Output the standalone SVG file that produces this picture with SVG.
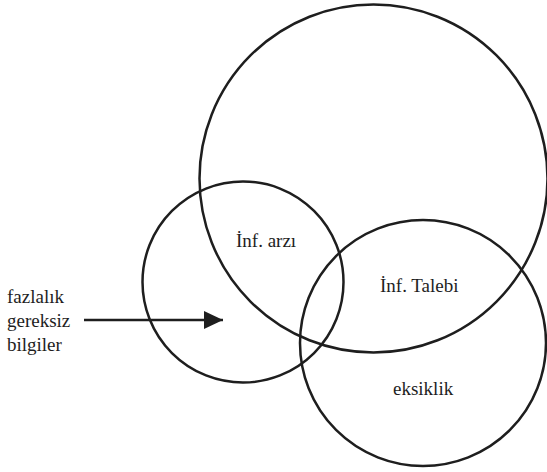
<svg xmlns="http://www.w3.org/2000/svg" width="547" height="472" viewBox="0 0 547 472">
  <style>
    .ring { fill: none; stroke: #1e1e1e; stroke-width: 2.5; }
    .lbl { font-size: 19px; fill: #1e1e1e; }
    .conn { stroke: #1e1e1e; stroke-width: 2.5; fill: none; }
  </style>
  <defs>
    <marker id="arrow" markerUnits="userSpaceOnUse" markerWidth="20" markerHeight="18" refX="19" refY="9" orient="auto">
      <path d="M0,0 L19,9 L0,18 Z" fill="#1e1e1e"/>
    </marker>
  </defs>
  <rect width="547" height="472" fill="#ffffff"/>
  <g id="talep">
    <circle class="ring" cx="373.5" cy="178.5" r="174"/>
    <text class="lbl" font-family="Liberation Serif, DejaVu Serif, serif" x="380" y="292">İnf. Talebi</text>
  </g>
  <g id="arz">
    <circle class="ring" cx="243" cy="282" r="100.5"/>
    <text class="lbl" font-family="Liberation Serif, DejaVu Serif, serif" x="236" y="247">İnf. arzı</text>
  </g>
  <g id="eksiklik">
    <circle class="ring" cx="423" cy="343" r="123"/>
    <text class="lbl" font-family="Liberation Serif, DejaVu Serif, serif" x="393" y="395">eksiklik</text>
  </g>
  <g id="fazlalik" font-family="Liberation Serif, DejaVu Serif, serif">
    <text class="lbl" x="7" y="303" font-size="20">fazlalık</text>
    <text class="lbl" x="7" y="327" font-size="20">gereksiz</text>
    <text class="lbl" x="7" y="351" font-size="20">bilgiler</text>
  </g>
  <g id="connectors">
    <line class="conn" x1="84" y1="320" x2="223" y2="320" marker-end="url(#arrow)"/>
  </g>
</svg>
